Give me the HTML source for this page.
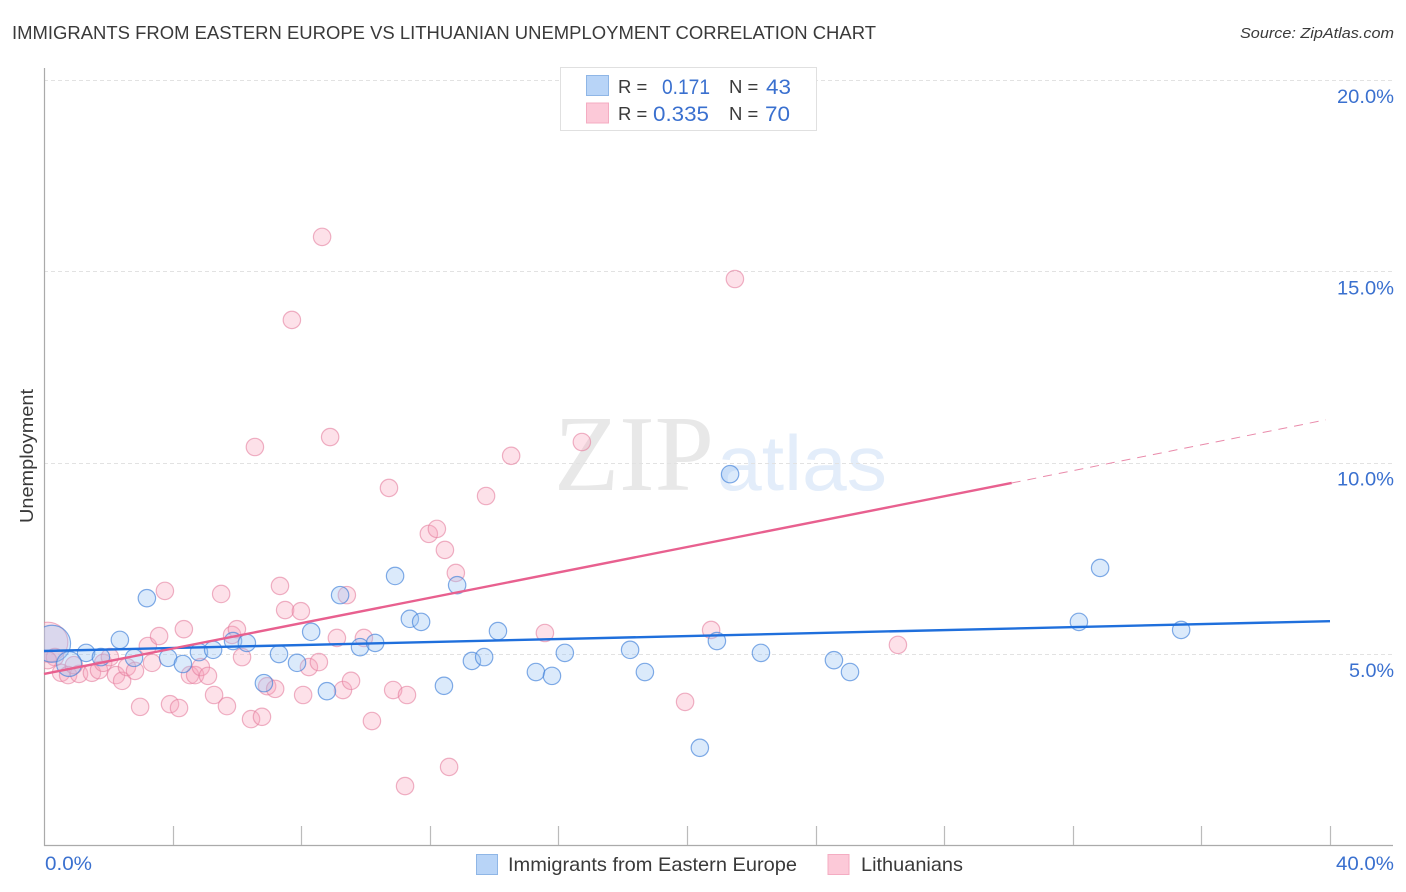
<!DOCTYPE html>
<html lang="en">
<head>
<meta charset="utf-8">
<title>Immigrants from Eastern Europe vs Lithuanian Unemployment Correlation Chart</title>
<style>
html,body{margin:0;padding:0;background:#fff;}
svg{display:block;font-family:"Liberation Sans",sans-serif;}
</style>
</head>
<body>
<svg id="chart" xmlns="http://www.w3.org/2000/svg" width="1406" height="892" viewBox="0 0 1406 892">
  <defs>
    <clipPath id="plot-clip"><rect x="44" y="60" width="1360" height="786"/></clipPath>
  </defs>
  <text x="12" y="39" font-size="18.5" fill="#3a3a3a" textLength="864" lengthAdjust="spacingAndGlyphs">IMMIGRANTS FROM EASTERN EUROPE VS LITHUANIAN UNEMPLOYMENT CORRELATION CHART</text>
  <text x="1394" y="38" font-size="15" font-style="italic" fill="#3a3a3a" text-anchor="end" textLength="154" lengthAdjust="spacingAndGlyphs">Source: ZipAtlas.com</text>

  <g id="watermark">
    <text x="554" y="490" font-family="'Liberation Serif',serif" font-size="108" fill="#e8e8e8" textLength="160" lengthAdjust="spacingAndGlyphs">ZIP</text>
    <text x="717" y="490" font-size="78" fill="#e3edfa" textLength="170" lengthAdjust="spacingAndGlyphs">atlas</text>
  </g>

  <g id="grid"></g>
  <g id="axes"></g>
  <g id="points-pink" clip-path="url(#plot-clip)"></g>
  <g id="points-blue" clip-path="url(#plot-clip)"></g>
  <g id="trends"></g>
  <g id="tick-labels"></g>

  <text transform="translate(33,456) rotate(-90)" font-size="18" fill="#3a3a3a" text-anchor="middle" textLength="134" lengthAdjust="spacingAndGlyphs">Unemployment</text>

  <g>
    <rect x="560.5" y="67.5" width="256" height="63" fill="#fff" stroke="#e0e0e0"/>
    <rect x="586.5" y="75.5" width="22" height="20" fill="#b8d4f7" stroke="#8fb6e6"/>
    <rect x="586.5" y="103" width="22" height="20" fill="#fcc9d8" stroke="#f4acc2"/>
    <text x="618" y="93" font-size="18.5" fill="#3a3a3a">R =</text>
    <text x="662" y="94" font-size="21" fill="#3a70cf" textLength="48" lengthAdjust="spacingAndGlyphs">0.171</text>
    <text x="729" y="93" font-size="18.5" fill="#3a3a3a">N =</text>
    <text x="766" y="94" font-size="21" fill="#3a70cf" textLength="25" lengthAdjust="spacingAndGlyphs">43</text>
    <text x="618" y="120" font-size="18.5" fill="#3a3a3a">R =</text>
    <text x="653" y="121" font-size="21" fill="#3a70cf" textLength="56" lengthAdjust="spacingAndGlyphs">0.335</text>
    <text x="729" y="120" font-size="18.5" fill="#3a3a3a">N =</text>
    <text x="765" y="121" font-size="21" fill="#3a70cf" textLength="25" lengthAdjust="spacingAndGlyphs">70</text>
  </g>

  <g>
    <rect x="476.5" y="854.5" width="21" height="20" fill="#b8d4f7" stroke="#8fb6e6"/>
    <text x="508" y="871" font-size="19.5" fill="#3a3a3a" textLength="289" lengthAdjust="spacingAndGlyphs">Immigrants from Eastern Europe</text>
    <rect x="828" y="854.5" width="21" height="20" fill="#fcc9d8" stroke="#f4acc2"/>
    <text x="861" y="871" font-size="19.5" fill="#3a3a3a" textLength="102" lengthAdjust="spacingAndGlyphs">Lithuanians</text>
  </g>
</svg>

<script>
const yTicks = [5, 10, 15, 20];
const yTickLabels = ['5.0%', '10.0%', '15.0%', '20.0%'];
const xTicks = [0, 4, 8, 12, 16, 20, 24, 28, 32, 36, 40];
const xEndLabels = ['0.0%', '40.0%'];

const blueX = [0.25,1.31,0.78,1.77,2.36,2.80,3.20,3.86,4.32,4.82,5.26,5.88,6.31,6.84,7.31,7.87,8.31,8.80,9.21,9.83,10.30,10.92,11.38,11.73,12.44,12.85,13.31,13.69,14.12,15.30,15.80,16.20,18.23,18.69,20.40,20.93,21.34,22.30,24.57,25.07,32.19,32.85,35.37];
const blueY = [5.27,5.03,4.74,4.92,5.37,4.90,6.46,4.90,4.74,5.05,5.11,5.34,5.29,4.24,5.00,4.77,5.58,4.03,6.54,5.18,5.29,7.04,5.92,5.84,4.17,6.80,4.82,4.92,5.60,4.53,4.43,5.03,5.11,4.53,2.55,5.34,9.70,5.03,4.84,4.53,5.84,7.25,5.63];
const blueWeight = [6,1,1.6,1,1,1,1,1,1,1,1,1,1,1,1,1,1,1,1,1,1,1,1,1,1,1,1,1,1,1,1,1,1,1,1,1,1,1,1,1,1,1,1];

const pinkX = [0.12,0.34,0.12,0.53,0.75,1.09,0.93,1.49,1.71,1.84,2.05,2.24,2.43,2.58,2.83,3.23,3.36,3.58,3.76,2.99,3.92,4.20,4.35,4.54,4.70,4.88,5.10,5.29,5.69,5.51,5.85,6.00,6.16,6.44,6.78,6.94,7.19,7.34,7.50,7.99,8.06,8.24,8.55,9.11,9.30,9.55,9.42,9.95,10.20,8.65,7.71,6.56,8.90,10.73,10.86,11.29,11.23,12.60,11.97,12.22,12.47,12.81,13.75,14.53,16.73,15.58,19.94,20.75,21.49,26.56];
const pinkY = [5.31,4.92,4.84,4.51,4.45,4.48,4.71,4.51,4.58,4.77,4.92,4.45,4.30,4.66,4.56,5.21,4.77,5.47,6.65,3.62,3.69,3.59,5.65,4.45,4.45,4.66,4.43,3.93,3.64,6.57,5.50,5.65,4.92,3.30,3.36,4.16,4.09,6.78,6.15,6.12,3.93,4.66,4.79,5.42,4.06,4.30,6.54,5.42,3.25,15.90,13.73,10.41,10.67,9.34,4.06,3.93,1.55,2.05,8.14,8.27,7.72,7.12,9.13,10.18,10.54,5.55,3.75,5.63,14.80,5.24];
const pinkWeight = [7,1,1,1,1,1,1,1,1,1,1,1,1,1,1,1,1,1,1,1,1,1,1,1,1,1,1,1,1,1,1,1,1,1,1,1,1,1,1,1,1,1,1,1,1,1,1,1,1,1,1,1,1,1,1,1,1,1,1,1,1,1,1,1,1,1,1,1,1,1];

const blueTrendX = [0, 40];
const blueTrendY = [5.08, 5.86];
const pinkTrendX = [0, 30.1];
const pinkTrendY = [4.48, 9.47];
const pinkDashX = [30.1, 39.87];
const pinkDashY = [9.47, 11.12];

const xScale = v => 44 + v * 32.15;
const yScale = v => 845.4 - v * 38.27;
const NS = 'http://www.w3.org/2000/svg';

function make(tag, attrs, parent) {
  const el = document.createElementNS(NS, tag);
  for (const k in attrs) el.setAttribute(k, attrs[k]);
  parent.appendChild(el);
  return el;
}

const gridG = document.getElementById('grid');
const axesG = document.getElementById('axes');
const labelsG = document.getElementById('tick-labels');
const pinkG = document.getElementById('points-pink');
const blueG = document.getElementById('points-blue');
const trendG = document.getElementById('trends');

function labelWidth(str) {
  return str.length === 4 ? 45 : 57;
}

yTicks.forEach((t, i) => {
  const y = Math.round(yScale(t)) + 0.5;
  const line = make('line', {x1: 44, x2: 1393, y1: y, y2: y, stroke: '#e2e2e2', 'stroke-width': 1, 'stroke-dasharray': '4 3'}, gridG);
  
  
  const label = make('text', {x: 1394, y: yScale(t) + 23, 'font-size': 19.5, fill: '#3a70cf', 'text-anchor': 'end', textLength: labelWidth(yTickLabels[i]), lengthAdjust: 'spacingAndGlyphs'}, labelsG);
  label.textContent = yTickLabels[i];
  
  
});

const yAxis = make('line', {x1: 44.5, x2: 44.5, y1: 68, y2: 846, stroke: '#aaa', 'stroke-width': 1.2}, axesG);


const xAxis = make('line', {x1: 44, x2: 1393, y1: 845.5, y2: 845.5, stroke: '#aaa', 'stroke-width': 1.2}, axesG);



xTicks.forEach(t => {
  if (t === 0) return;
  const x = Math.round(xScale(t)) + 0.5;
  const tick = make('line', {x1: x, x2: x, y1: 826, y2: 845, stroke: '#bbb', 'stroke-width': 1.2}, axesG);
  
  
});

const xLabelStart = make('text', {x: xScale(xTicks[0]) + 1, y: 870, 'font-size': 19.5, fill: '#3a70cf', textLength: 47, lengthAdjust: 'spacingAndGlyphs'}, labelsG);
xLabelStart.textContent = xEndLabels[0];


const xLabelEnd = make('text', {x: 1394, y: 870, 'font-size': 19.5, fill: '#3a70cf', 'text-anchor': 'end', textLength: 58, lengthAdjust: 'spacingAndGlyphs'}, labelsG);
xLabelEnd.textContent = xEndLabels[1];



pinkX.forEach((v, i) => {
  const r = pinkWeight[i] > 1 ? 20 : 8.7;
  const c = make('circle', {cx: xScale(v), cy: yScale(pinkY[i]), r: r, fill: '#f8a5bd', 'fill-opacity': 0.33, stroke: '#e57f9f', 'stroke-opacity': 0.6, 'stroke-width': 1.2}, pinkG);
  
  
});

blueX.forEach((v, i) => {
  const r = blueWeight[i] > 3 ? 18.5 : (blueWeight[i] > 1 ? 12.5 : 8.7);
  const c = make('circle', {cx: xScale(v), cy: yScale(blueY[i]), r: r, fill: '#9cc4f4', 'fill-opacity': 0.36, stroke: '#3f7fd8', 'stroke-opacity': 0.65, 'stroke-width': 1.2}, blueG);
  
  
});

const blueTrend = make('line', {x1: xScale(blueTrendX[0]), y1: yScale(blueTrendY[0]), x2: xScale(blueTrendX[1]), y2: yScale(blueTrendY[1]), stroke: '#1f6fdc', 'stroke-width': 2.4}, trendG);


const pinkTrend = make('line', {x1: xScale(pinkTrendX[0]), y1: yScale(pinkTrendY[0]), x2: xScale(pinkTrendX[1]), y2: yScale(pinkTrendY[1]), stroke: '#e8608f', 'stroke-width': 2.4}, trendG);


const pinkDash = make('line', {x1: xScale(pinkDashX[0]), y1: yScale(pinkDashY[0]), x2: xScale(pinkDashX[1]), y2: yScale(pinkDashY[1]), stroke: '#e98aaa', 'stroke-width': 1, 'stroke-dasharray': '9 7'}, trendG);


</script>
</body>
</html>
